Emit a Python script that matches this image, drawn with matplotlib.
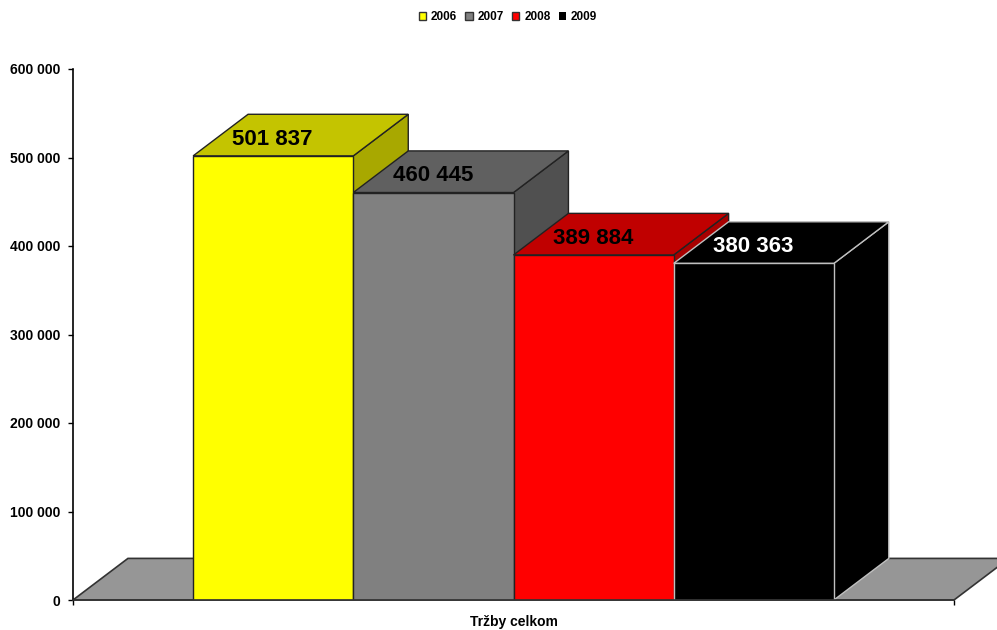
import matplotlib
matplotlib.use('Agg')
import matplotlib.pyplot as plt
from matplotlib.patches import Patch, Polygon

plt.rcParams['font.family'] = ['Liberation Sans', 'DejaVu Sans']
plt.rcParams['font.weight'] = 'bold'

years = ['2006', '2007', '2008', '2009']
values = [501837, 460445, 389884, 380363]
value_labels = ['501 837', '460 445', '389 884', '380 363']
y_ticks = [0, 100000, 200000, 300000, 400000, 500000, 600000]
y_tick_labels = ['0', '100 000', '200 000', '300 000', '400 000', '500 000', '600 000']
category = 'Tržby celkom'

front_colors = ['#FFFF00', '#808080', '#FF0000', '#000000']
top_colors = ['#C4C400', '#606060', '#C00000', '#000000']
side_colors = ['#A8A800', '#505050', '#A80000', '#000000']
edge_colors = ['#222222', '#222222', '#222222', '#C0C0C0']
text_colors = ['black', 'black', 'black', 'white']

# size of the 3d offset in data units (one bar is 1 wide)
dx = 0.343
dy = 47000

fig = plt.figure(figsize=(9.97, 6.30), dpi=100)
ax = fig.add_axes([73 / 997, 1 - 600 / 630, 881 / 997, 531 / 630])
ax.set_xlim(-0.75, 4.75)
ax.set_ylim(0, 600000)

# floor
ax.add_patch(Polygon([(-0.75, 0), (-0.75 + dx, dy), (4.75 + dx, dy), (4.75, 0)],
                     closed=True, fc='#969696', ec='#333333', lw=1.2, clip_on=False, zorder=1))

for i, v in enumerate(values):
    l, r = i, i + 1
    ec = edge_colors[i]
    z = 2 + i
    ax.add_patch(Polygon([(r, 0), (r + dx, dy), (r + dx, v + dy), (r, v)], closed=True,
                         fc=side_colors[i], ec=ec, lw=1, zorder=z))
    ax.add_patch(Polygon([(l, v), (l + dx, v + dy), (r + dx, v + dy), (r, v)], closed=True,
                         fc=top_colors[i], ec=ec, lw=1, zorder=z))
    ax.add_patch(Polygon([(l, 0), (r, 0), (r, v), (l, v)], closed=True,
                         fc=front_colors[i], ec=ec, lw=1, zorder=z))
    ax.annotate(value_labels[i], (i + 0.5, v), xytext=(-0.5, 12), textcoords='offset points',
                ha='center', va='center', fontsize=16, color=text_colors[i], zorder=10)

for s in ['top', 'right']:
    ax.spines[s].set_visible(False)
ax.spines['left'].set_linewidth(1.2)
ax.spines['bottom'].set_linewidth(1.2)
ax.spines['bottom'].set_color('#333333')
ax.spines['bottom'].set_zorder(9)

ax.set_yticks(y_ticks)
ax.set_yticklabels(y_tick_labels, fontsize=10)
ax.tick_params(axis='y', length=3.5, width=1, pad=5.5)
ax.set_xticks([-0.75, 4.75])
ax.set_xticklabels(['', ''])
ax.tick_params(axis='x', length=3.5, width=1)
ax.text(2, -24500, category, ha='center', va='center', fontsize=10)

handles = [Patch(fc=c, ec='#333333', lw=1) for c in front_colors]
handles[3] = Patch(fc='black', ec='none')
fig.legend(handles, years, loc='center', bbox_to_anchor=(508 / 997, 1 - 17 / 630), ncol=4,
           frameon=False, fontsize=8.5, handlelength=0.6, handleheight=0.6,
           handletextpad=0.4, columnspacing=0.75)

fig.savefig('out.png', dpi=100)
